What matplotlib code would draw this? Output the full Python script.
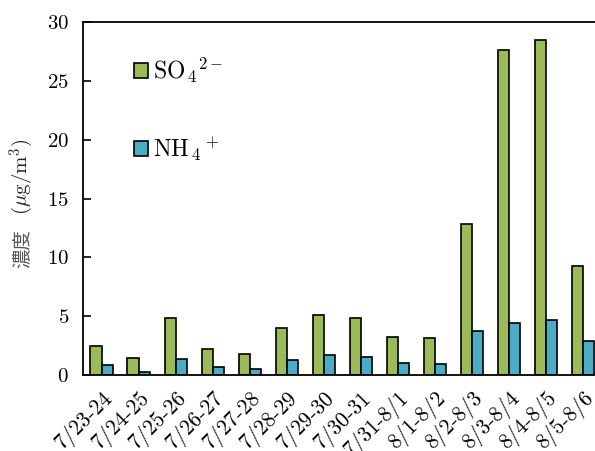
import matplotlib
matplotlib.use("Agg")
import matplotlib.pyplot as plt
import numpy as np

categories = ["7/23-24", "7/24-25", "7/25-26", "7/26-27", "7/27-28", "7/28-29", "7/29-30",
              "7/30-31", "7/31-8/1", "8/1-8/2", "8/2-8/3", "8/3-8/4", "8/4-8/5", "8/5-8/6"]
so4 = [2.5, 1.45, 4.87, 2.24, 1.81, 3.99, 5.1, 4.84, 3.2, 3.15, 12.8, 27.6, 28.5, 9.3]
nh4 = [0.85, 0.23, 1.39, 0.71, 0.48, 1.28, 1.7, 1.53, 0.99, 0.93, 3.77, 4.45, 4.7, 2.86]
yticks = [0, 5, 10, 15, 20, 25, 30]

plt.rcParams['font.family'] = ['cmr10', 'DejaVu Serif']
plt.rcParams['mathtext.fontset'] = 'cm'
plt.rcParams['axes.formatter.use_mathtext'] = True

fig = plt.figure(figsize=(5.95, 4.51), dpi=100)
ax = fig.add_axes([83/595, 76/451, 518.7/595, 353/451])

x = np.arange(len(categories))
w = 0.3
b1 = ax.bar(x - w/2, so4, w, color='#9BBB59', edgecolor='black', linewidth=1.2,
            label=r'SO$_{\,\mathrm{4}}$$^{\mathrm{2-}}$')
b2 = ax.bar(x + w/2, nh4, w, color='#4BACC6', edgecolor='black', linewidth=1.2,
            label=r'NH$_{\,\mathrm{4}}$$^{\,\mathrm{+}}$')

ax.set_xlim(-0.5, len(categories) - 0.5)
ax.set_ylim(0, 30)
ax.set_yticks(yticks)
ax.set_xticks(x)
ax.set_xticklabels(categories, rotation=45, ha='right', va='top', rotation_mode='anchor', fontsize=15.5)
ax.tick_params(axis='y', direction='in', length=6, width=1.2, labelsize=15, pad=10)
ax.tick_params(axis='x', length=0, pad=9)
for s in ['top', 'left', 'bottom']:
    ax.spines[s].set_linewidth(1.3)
ax.spines['right'].set_visible(False)

leg = ax.legend(handles=[b1, b2], loc='upper left', bbox_to_anchor=(0.08, 0.93), frameon=False,
                fontsize=17, handlelength=0.6, handleheight=0.6, handletextpad=0.2,
                labelspacing=2.1, borderaxespad=0)

fig.text(22/595, 1 - 249/451, '濃度', rotation=90, ha='center', va='center',
         fontsize=14, color='#555555', family=['Noto Sans CJK JP'])
fig.text(22/595, 1 - 177/451, r'($\mu$g/m$^3$)', rotation=90, ha='center', va='center',
         fontsize=15, color='#222222')

fig.savefig('out.png', dpi=100)
